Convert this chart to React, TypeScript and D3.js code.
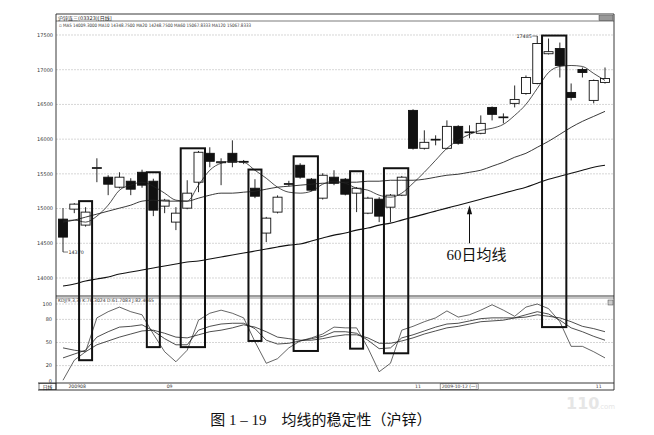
import React from 'react';
import * as d3 from 'd3';

// daily candles (price units)
const opens = [14848, 14992, 14762, 15580, 15452, 15308, 15394, 15523, 15394, 15035, 14805, 15006, 15380, 15796, 15660, 15796, 15667, 15293, 14647, 14949, 15351, 15624, 15423, 15150, 15452, 15423, 15222, 14934, 15135, 15020, 15193, 16414, 15868, 15990, 15868, 16184, 16098, 16084, 16457, 16313, 16515, 16658, 16802, 17230, 17305, 16673, 17003, 16558, 16817];
const highs = [15006, 15078, 15020, 15724, 15480, 15523, 15437, 15560, 15430, 15140, 15020, 15408, 15830, 15883, 15724, 15983, 15700, 15423, 14880, 15190, 15400, 15653, 15440, 15509, 15552, 15440, 15310, 15170, 15164, 15210, 15470, 16430, 16127, 16055, 16270, 16200, 16199, 16342, 16470, 16371, 16773, 16917, 17485, 17449, 17391, 16802, 17032, 16860, 17032];
const lows = [14374, 14934, 14740, 15380, 15193, 15290, 15193, 15300, 14891, 14934, 14690, 14990, 15236, 15595, 15337, 15595, 15640, 15150, 14517, 14930, 15320, 15430, 15250, 15130, 15337, 15190, 14949, 14920, 14805, 14805, 15180, 15850, 15850, 15911, 15850, 15920, 16012, 16070, 16270, 16227, 16457, 16640, 16790, 17220, 16888, 16558, 16888, 16515, 16800];
const closes = [14589, 15064, 14949, 15590, 15351, 15452, 15279, 15337, 14977, 15121, 14934, 15222, 15811, 15681, 15675, 15667, 15680, 15178, 14862, 15164, 15360, 15452, 15265, 15480, 15365, 15207, 15293, 15150, 14891, 15193, 15452, 15868, 15954, 15998, 16184, 15940, 16105, 16227, 16357, 16320, 16572, 16888, 17377, 17260, 17061, 16601, 16960, 16845, 16874];

// moving averages as drawn
const ma5 = [14820, 14834, 14805, 14891, 15049, 15265, 15337, 15380, 15322, 15222, 15121, 15107, 15337, 15552, 15653, 15681, 15667, 15552, 15437, 15308, 15236, 15222, 15250, 15351, 15394, 15365, 15293, 15265, 15193, 15164, 15222, 15365, 15523, 15696, 15868, 15983, 16069, 16127, 16156, 16213, 16342, 16501, 16730, 16960, 17047, 17061, 17047, 16946, 16845];
const ma20 = [14805, 14834, 14877, 14920, 14963, 15006, 15049, 15107, 15121, 15107, 15107, 15107, 15150, 15193, 15222, 15222, 15236, 15250, 15279, 15308, 15322, 15337, 15351, 15365, 15365, 15380, 15380, 15394, 15394, 15408, 15408, 15408, 15423, 15452, 15480, 15495, 15523, 15552, 15610, 15667, 15739, 15796, 15883, 15969, 16069, 16170, 16256, 16328, 16400];
const ma60 = [13885, 13914, 13957, 13986, 14015, 14058, 14086, 14115, 14144, 14173, 14201, 14230, 14244, 14273, 14302, 14331, 14359, 14388, 14417, 14446, 14474, 14489, 14532, 14575, 14618, 14647, 14690, 14719, 14762, 14790, 14834, 14877, 14920, 14963, 15006, 15049, 15092, 15135, 15178, 15222, 15265, 15308, 15365, 15423, 15466, 15509, 15552, 15595, 15624];

// KDJ(9,3,3)
const kLine = [30, 35, 40, 57, 64, 70, 71, 73, 65, 55, 47, 47, 66, 71, 74, 75, 75, 68, 53, 48, 49, 52, 55, 58, 64, 64, 62, 53, 42, 43, 56, 60, 65, 70, 74, 75, 78, 81, 82, 82, 82, 86, 90, 87, 79, 69, 64, 58, 53];
const dLine = [43, 40, 38, 47, 52, 57, 61, 65, 66, 62, 57, 56, 60, 64, 66, 69, 73, 70, 64, 57, 55, 53, 53, 55, 58, 60, 60, 56, 49, 49, 52, 56, 61, 65, 69, 71, 74, 77, 78, 79, 82, 83, 86, 84, 82, 77, 71, 68, 64];
const jLine = [1, 27, 38, 82, 90, 96, 90, 86, 61, 38, 25, 40, 79, 88, 92, 88, 82, 51, 23, 29, 43, 52, 56, 61, 70, 69, 69, 43, 12, 23, 66, 71, 77, 82, 91, 83, 86, 92, 99, 92, 84, 96, 100, 94, 77, 45, 45, 38, 30];

// highlighted spans: first/last candle index, top price, bottom KDJ value
const boxFrom = [2, 8, 11, 17, 21, 26, 29, 43];
const boxTo = [2, 8, 12, 17, 22, 26, 30, 44];
const boxTop = [15107, 15523, 15868, 15562, 15753, 15538, 15581, 17492];
const boxBottom = [27, 44, 44, 52, 39, 42, 36, 70];

const priceTicks = [14000, 14500, 15000, 15500, 16000, 16500, 17000, 17500];
const kdjTicks = [0, 20, 50, 80, 100];
const dateIdx = [0.3, 9, 31, 47];
const dateText = ['200908', '09', '11', '11'];

const W = 654;
const H = 435;
const L = 56;
const R = 614;
const tiny = '"DejaVu Sans", "Noto Sans CJK SC", sans-serif';
const cjk = '"Liberation Serif", "Noto Sans CJK SC", serif';

export default function App() {
  const x = d3.scaleLinear().domain([0, closes.length - 1]).range([63, 605]);
  const yP = d3.scaleLinear().domain([14000, 17500]).range([278, 35]);
  const yK = d3.scaleLinear().domain([0, 100]).range([381, 304]);
  const idx = d3.range(closes.length);

  const priceLine = (vals: number[]) =>
    d3.line<number>().x(i => x(i)).y(i => yP(vals[i])).curve(d3.curveMonotoneX)(idx) || '';
  const kdjLine = (vals: number[]) =>
    d3.line<number>().x(i => x(i)).y(i => yK(vals[i]))(idx) || '';

  const bw = 9;
  const arrowX = x(36);
  const arrowTip = yP(ma60[36]) + 3;
  const arrowBase = yP(14500);

  return (
    <svg width={W} height={H} style={{ position: 'absolute', left: 0, top: 0, background: '#fff' }}>
      <rect x={0} y={0} width={W} height={H} fill="#fff" />

      {/* faint site watermark, under the date bar */}
      <text x={566} y={409} fontSize={16} fontWeight="bold" fontFamily={tiny} fill="#e6e6e6">110</text>
      <text x={598} y={409} fontSize={7} fontFamily={tiny} fill="#e6e6e6">.com</text>

      {/* grid */}
      {priceTicks.map(t => (
        <g key={'p' + t}>
          <line x1={L} x2={R} y1={yP(t)} y2={yP(t)} stroke="#c4c4c4" strokeWidth={0.7} strokeDasharray="2,1" />
          <text x={53} y={yP(t) + 1.8} fontSize={5} fontFamily={tiny} textAnchor="end" fill="#333">{t}</text>
        </g>
      ))}
      {kdjTicks.map(t => (
        <g key={'k' + t}>
          {t > 0 && <line x1={L} x2={R} y1={yK(t)} y2={yK(t)} stroke="#c4c4c4" strokeWidth={0.7} strokeDasharray="2,1" />}
          <text x={52} y={yK(t) + 1.8} fontSize={5} fontFamily={tiny} textAnchor="end" fill="#333">{t}</text>
        </g>
      ))}

      {/* frame */}
      <g stroke="#222" fill="none">
        <line x1={L} x2={R} y1={14} y2={14} strokeWidth={0.9} />
        <line x1={L} x2={R} y1={21} y2={21} strokeWidth={0.6} />
        <line x1={L} x2={L} y1={14} y2={390} strokeWidth={0.9} />
        <line x1={R} x2={R} y1={14} y2={390} strokeWidth={0.9} />
        <line x1={L} x2={R} y1={296} y2={296} strokeWidth={0.9} />
        <line x1={L} x2={R} y1={298} y2={298} strokeWidth={0.5} />
        <line x1={38} x2={R} y1={383} y2={383} strokeWidth={0.9} />
        <line x1={38} x2={R} y1={390} y2={390} strokeWidth={0.9} />
        <rect x={39} y={383.5} width={17} height={6} strokeWidth={0.6} />
        <rect x={599} y={15.5} width={14} height={5} fill="#999" strokeWidth={0.4} />
        <rect x={608} y={300} width={5} height={5} fill="#ccc" strokeWidth={0.4} />
      </g>
      <text x={58} y={19.5} fontSize={5} fontFamily={tiny} fill="#222">沪锌连三(03323)[日线]</text>
      <text x={59} y={27} fontSize={4.6} fontFamily={tiny} fill="#333" textLength={192} lengthAdjust="spacingAndGlyphs">
        ▫ MA5 14009.3000 MA10 14348.7500 MA20 14248.7500 MA60 15067.8333 MA120 15067.8333
      </text>
      <text x={58} y={302} fontSize={4.6} fontFamily={tiny} fill="#333" textLength={96} lengthAdjust="spacingAndGlyphs">
        KDJ(9,3,3) K:76.3024 D:61.7083 J:82.4665
      </text>
      <text x={47.5} y={388.6} fontSize={4.8} fontFamily={tiny} textAnchor="middle" fill="#222">日线</text>
      {dateIdx.map((d, i) => (
        <text key={'d' + i} x={x(d) + 2} y={388.4} fontSize={4.6} fontFamily={tiny} fill="#333">{dateText[i]}</text>
      ))}
      <rect x={x(33.4)} y={383.8} width={38} height={5.6} fill="none" stroke="#333" strokeWidth={0.5} />
      <text x={x(33.4) + 1.5} y={388.4} fontSize={4.5} fontFamily={tiny} fill="#333">2009-10-12 (一)</text>

      {/* candles */}
      {idx.map(i => {
        const o = opens[i], c = closes[i];
        const down = c < o;
        const top = yP(Math.max(o, c));
        const h = Math.max(yP(Math.min(o, c)) - top, 0.8);
        return (
          <g key={'c' + i}>
            <line x1={x(i)} x2={x(i)} y1={yP(highs[i])} y2={yP(lows[i])} stroke="#111" strokeWidth={0.9} />
            <rect x={x(i) - bw / 2} y={top} width={bw} height={h}
              fill={down ? '#111' : '#fff'} stroke="#111" strokeWidth={0.9} />
          </g>
        );
      })}

      {/* extreme labels */}
      <polyline points={`${x(0)},${yP(lows[0])} ${x(0) + 5},${yP(lows[0])}`} fill="none" stroke="#222" strokeWidth={0.6} />
      <text x={x(0) + 5.5} y={yP(lows[0]) + 1.7} fontSize={4.8} fontFamily={tiny} fill="#222">14370</text>
      <line x1={x(42) - 5} x2={x(42)} y1={yP(highs[42])} y2={yP(highs[42])} stroke="#222" strokeWidth={0.6} />
      <text x={x(42) - 5.5} y={yP(highs[42]) + 1.7} fontSize={4.8} fontFamily={tiny} textAnchor="end" fill="#222">17485</text>

      {/* moving averages */}
      <path d={priceLine(ma5)} fill="none" stroke="#222" strokeWidth={0.8} />
      <path d={priceLine(ma20)} fill="none" stroke="#222" strokeWidth={0.9} />
      <path d={priceLine(ma60)} fill="none" stroke="#111" strokeWidth={1.1} />

      {/* KDJ */}
      <path d={kdjLine(kLine)} fill="none" stroke="#222" strokeWidth={0.8} />
      <path d={kdjLine(dLine)} fill="none" stroke="#222" strokeWidth={0.8} />
      <path d={kdjLine(jLine)} fill="none" stroke="#222" strokeWidth={0.7} />

      {/* highlight boxes */}
      {boxFrom.map((f, i) => (
        <rect key={'b' + i} x={x(f) - 6.5} y={yP(boxTop[i])}
          width={x(boxTo[i]) - x(f) + 13} height={yK(boxBottom[i]) - yP(boxTop[i])}
          fill="none" stroke="#111" strokeWidth={2} />
      ))}

      {/* annotation */}
      <line x1={arrowX} x2={arrowX} y1={arrowBase} y2={arrowTip + 8} stroke="#111" strokeWidth={1} />
      <polygon points={`${arrowX},${arrowTip} ${arrowX - 2.6},${arrowTip + 9} ${arrowX + 2.6},${arrowTip + 9}`} fill="#111" />
      <text x={arrowX + 7} y={arrowBase + 17} fontSize={15} fontFamily={cjk} textAnchor="middle" fill="#111">60日均线</text>

      <text x={321} y={425} fontSize={15} fontFamily={cjk} textAnchor="middle" fill="#111">图 1 – 19　均线的稳定性（沪锌）</text>
    </svg>
  );
}
